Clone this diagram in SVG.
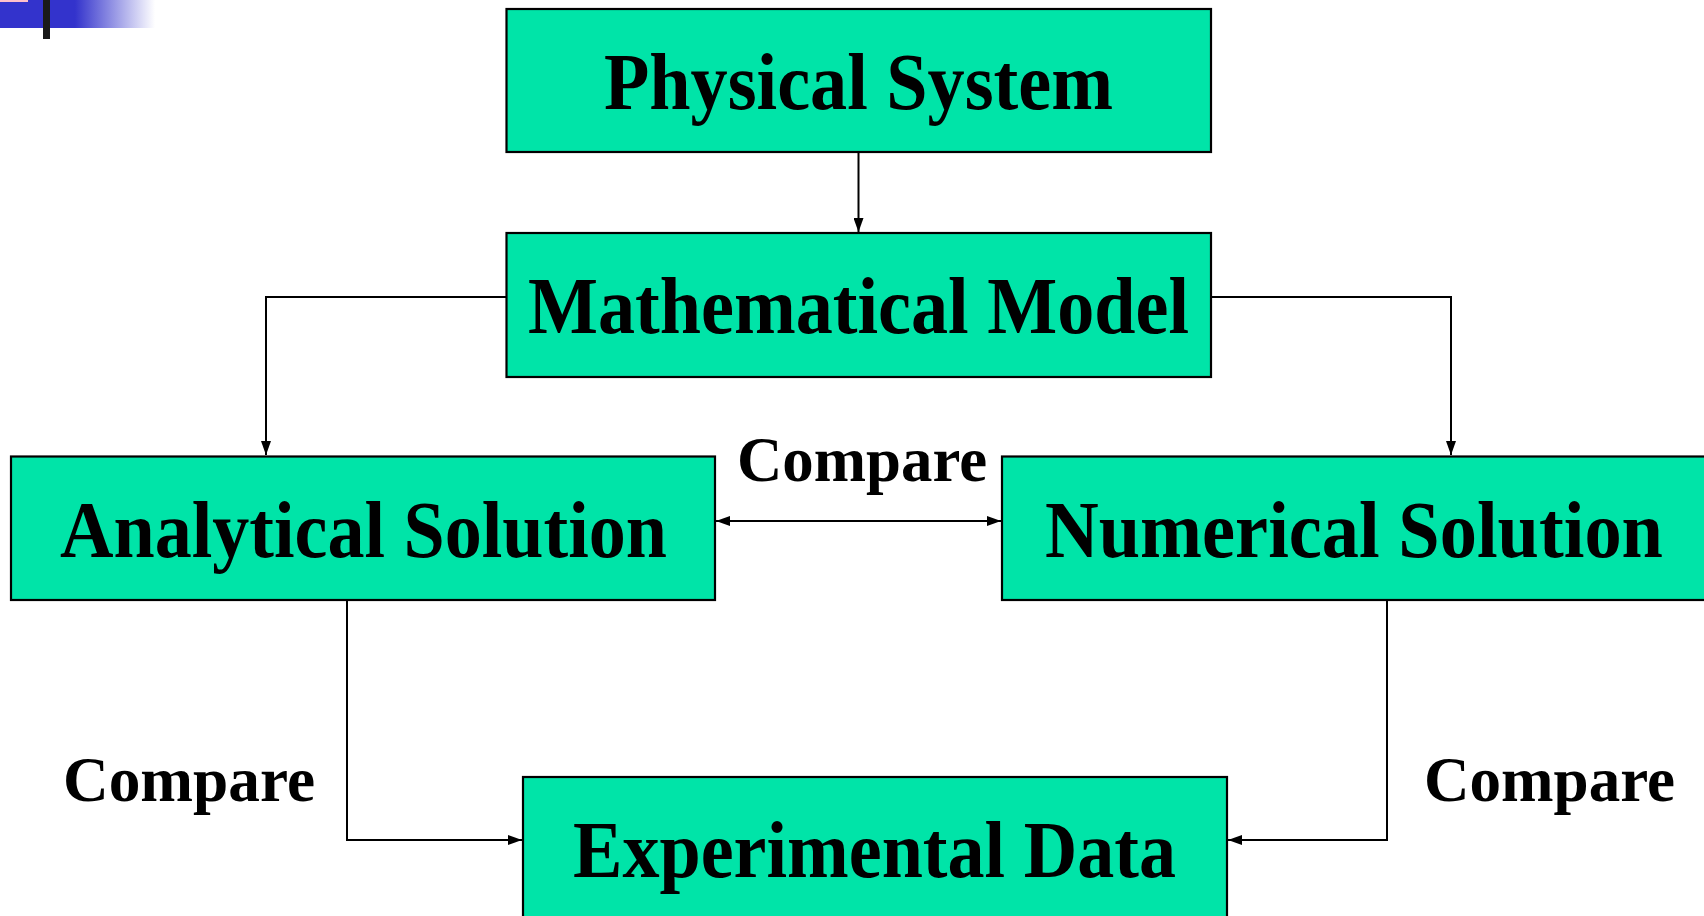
<svg xmlns="http://www.w3.org/2000/svg" width="1704" height="916" viewBox="0 0 1704 916">
<style>
.box{fill:#00E4A8;stroke:#000;stroke-width:2.2}
.lbl{font-family:"Liberation Serif","Times New Roman",serif;font-weight:bold;font-size:80px;fill:#000;text-anchor:middle}
.cmp{font-family:"Liberation Serif","Times New Roman",serif;font-weight:bold;font-size:64px;fill:#000;text-anchor:middle}
.ln{fill:none;stroke:#000;stroke-width:2}
</style>
<defs>
<linearGradient id="fade" x1="0" y1="0" x2="1" y2="0">
<stop offset="0" stop-color="#3333CC"/>
<stop offset="1" stop-color="#3333CC" stop-opacity="0"/>
</linearGradient>
<marker id="ah" viewBox="0 0 14 10" refX="14" refY="5" markerWidth="7" markerHeight="5" orient="auto-start-reverse">
<path d="M0,0 L14,5 L0,10 z" fill="#000"/>
</marker>
</defs>
<rect width="1704" height="916" fill="#fff"/>
<g id="decor">
<rect x="0" y="0" width="75" height="28" fill="#3333CC"/>
<rect x="75" y="0" width="80" height="28" fill="url(#fade)"/>
<rect x="0" y="0" width="28" height="2" fill="#FFC0CB"/>
<rect x="43" y="0" width="7" height="39" fill="#1a1a1a"/>
</g>
<g id="connectors">
<line class="ln" x1="858.5" y1="152" x2="858.5" y2="232" marker-end="url(#ah)"/>
<polyline class="ln" points="506,297 266,297 266,455" marker-end="url(#ah)"/>
<polyline class="ln" points="1211,297 1451,297 1451,455" marker-end="url(#ah)"/>
<line class="ln" x1="716" y1="521" x2="1001" y2="521" marker-start="url(#ah)" marker-end="url(#ah)"/>
<polyline class="ln" points="347,600 347,840 522,840" marker-end="url(#ah)"/>
<polyline class="ln" points="1387,600 1387,840 1228,840" marker-end="url(#ah)"/>
</g>
<g id="physical-system">
<rect class="box" x="506.5" y="9" width="704.5" height="143"/>
<text class="lbl" x="858.5" y="109" textLength="509" lengthAdjust="spacingAndGlyphs">Physical System</text>
</g>
<g id="mathematical-model">
<rect class="box" x="506.5" y="233" width="704.5" height="144"/>
<text class="lbl" x="858.5" y="333" textLength="661" lengthAdjust="spacingAndGlyphs">Mathematical Model</text>
</g>
<g id="analytical-solution">
<rect class="box" x="11" y="456.5" width="704" height="143.5"/>
<text class="lbl" x="363.5" y="557" textLength="607" lengthAdjust="spacingAndGlyphs">Analytical Solution</text>
</g>
<g id="numerical-solution">
<rect class="box" x="1002" y="456.5" width="705" height="143.5"/>
<text class="lbl" x="1354" y="557" textLength="618" lengthAdjust="spacingAndGlyphs">Numerical Solution</text>
</g>
<g id="experimental-data">
<rect class="box" x="523" y="777" width="704" height="145"/>
<text class="lbl" x="874.5" y="877" textLength="603" lengthAdjust="spacingAndGlyphs">Experimental Data</text>
</g>
<g id="labels">
<text class="cmp" x="862" y="481" textLength="250" lengthAdjust="spacingAndGlyphs">Compare</text>
<text class="cmp" x="189" y="801" textLength="252" lengthAdjust="spacingAndGlyphs">Compare</text>
<text class="cmp" x="1549.5" y="801" textLength="251" lengthAdjust="spacingAndGlyphs">Compare</text>
</g>
</svg>
